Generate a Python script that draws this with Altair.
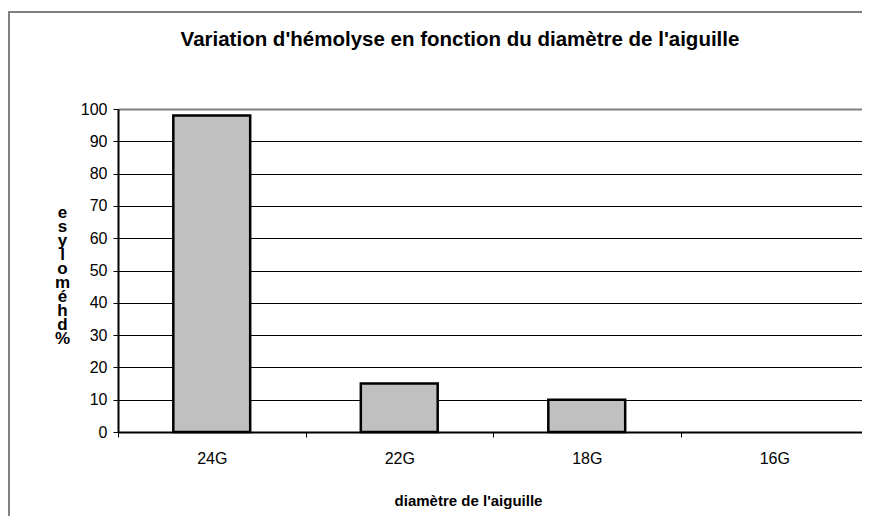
import altair as alt
import pandas as pd

# ---- data ----
categories = ["24G", "22G", "18G", "16G"]
values = [98, 15, 10, 0]
y_ticks = [0, 10, 20, 30, 40, 50, 60, 70, 80, 90, 100]
chart_title = "Variation d'hémolyse en fonction du diamètre de l'aiguille"
x_title = "diamètre de l'aiguille"
y_title_letters = ["e", "s", "y", "l", "o", "m", "é", "h", "d", "%"]

df = pd.DataFrame({"diametre": categories, "hemolyse": values})
frame_df = pd.DataFrame({"k": [0]})

FONT = "Liberation Sans"
W, H = 750, 323

bars = alt.Chart(df).transform_filter("datum.hemolyse > 0").mark_bar(
    color="#c0c0c0", stroke="black", strokeWidth=2.5,
    width=alt.RelativeBandSize(0.41),
).encode(
    x=alt.X(
        "diametre:N",
        sort=categories,
        scale=alt.Scale(domain=categories, paddingInner=0, paddingOuter=0),
        axis=alt.Axis(
            title=x_title,
            tickBand="extent",
            labelAngle=0,
            labelFont=FONT,
            labelFontSize=16,
            labelColor="black",
            labelPadding=13,
            domainColor="black",
            domainWidth=2,
            tickColor="black",
            tickSize=5,
            tickWidth=1,
            grid=False,
            titleFont=FONT,
            titleFontSize=15,
            titleFontWeight="bold",
            titleColor="black",
            titleX=350,
            titleY=68,
            titleBaseline="middle",
            titleAlign="center",
        ),
    ),
    y=alt.Y(
        "hemolyse:Q",
        scale=alt.Scale(domain=[0, 100], nice=False),
        axis=alt.Axis(
            values=y_ticks,
            title=y_title_letters,
            titleAngle=0,
            titleAlign="center",
            titleBaseline="top",
            titleX=-56,
            titleY=95,
            titleLineHeight=14,
            titleFont=FONT,
            titleFontSize=17,
            titleFontWeight="bold",
            titleColor="black",
            labelFont=FONT,
            labelFontSize=16,
            labelColor="black",
            labelPadding=6,
            domainColor="black",
            domainWidth=2,
            tickColor="black",
            tickSize=5,
            grid=True,
            gridColor=alt.condition("datum.value == 100", alt.value("#808080"), alt.value("black")),
            gridWidth=alt.condition("datum.value == 100", alt.value(2), alt.value(1)),
        ),
    ),
)

top_rule = alt.Chart(frame_df).mark_rule(color="black", strokeWidth=1).encode(
    x=alt.value(-110), x2=alt.value(760), y=alt.value(-97)
)
left_rule = alt.Chart(frame_df).mark_rule(color="#808080", strokeWidth=2).encode(
    x=alt.value(-109), y=alt.value(-97), y2=alt.value(430)
)

chart = alt.layer(top_rule, left_rule, bars).properties(
    width=W,
    height=H,
    title=alt.TitleParams(
        text=chart_title,
        font=FONT,
        fontSize=20.5,
        fontWeight="bold",
        color="black",
        anchor="middle",
        dx=-33,
        dy=39,
        offset=0,
    ),
    autosize=alt.AutoSizeParams(type="none"),
    padding={"left": 110, "top": 101, "right": -6, "bottom": 84},
).configure_view(stroke=None).configure(background="white")

chart.save("out.html", embed_options={"renderer": "svg", "actions": False})
